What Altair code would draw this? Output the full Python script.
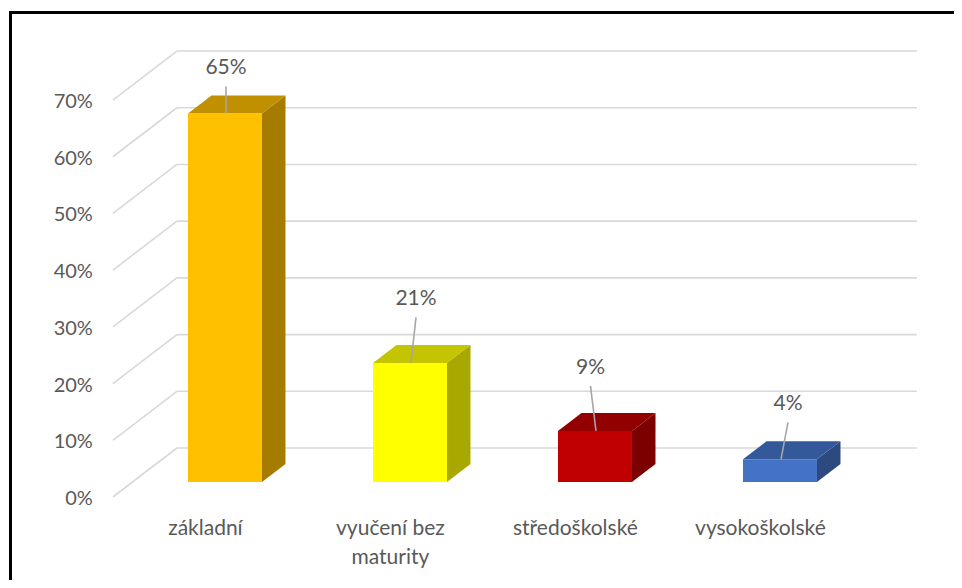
import altair as alt
import pandas as pd

# ---------------- data ----------------
categories = ["základní", "vyučení bez\nmaturity", "středoškolské", "vysokoškolské"]
values = [0.65, 0.21, 0.09, 0.04]
value_labels = ["65%", "21%", "9%", "4%"]
tick_values = [0.0, 0.1, 0.2, 0.3, 0.4, 0.5, 0.6, 0.7]
tick_labels = ["0%", "10%", "20%", "30%", "40%", "50%", "60%", "70%"]

front_colors = ["#FFC000", "#FFFF00", "#C00000", "#4472C4"]
top_colors = ["#C09000", "#C4C400", "#920000", "#33599A"]
side_colors = ["#A67C00", "#A8A800", "#7C0000", "#2C4A80"]

# manual data-label placement (px, relative to the bar's front-top centre)
label_dx = [1, 6, -4.5, 8]
label_dy = [-45, -63.5, -63, -55]

# ---------------- geometry ----------------
W, H = 946, 572
PX_U = 185.0      # px per category step
PX_V = 567.1      # px per unit of value
X0 = 197.4        # px of category 0 on the front plane
Y0 = 489.0        # px of value 0 on the front plane
XD = [-X0 / PX_U, (W - X0) / PX_U]
YD = [-(H - Y0) / PX_V, Y0 / PX_V]
DU = 64.0 / PX_U  # floor depth vector (front plane -> back wall)
DV = 49.0 / PX_V
T_FRONT, T_BACK = 0.306, 0.673
HALF = 0.2
FLOOR_L, FLOOR_R = -0.5, 3.5

xs = alt.Scale(domain=XD, nice=False, zero=False)
ys = alt.Scale(domain=YD, nice=False, zero=False)


def X(f):
    return alt.X(f, type="quantitative", scale=xs, axis=None)


def Y(f):
    return alt.Y(f, type="quantitative", scale=ys, axis=None)


FONT = "Lato"
TXT = "#595959"
GRID = "#D9D9D9"

# gridlines
grid = pd.DataFrame({"v": tick_values})
grid["bx1"] = FLOOR_L + DU
grid["bx2"] = FLOOR_R + DU
grid["by"] = grid["v"] + DV
grid["fx"] = FLOOR_L
grid["fy"] = grid["v"]

back_lines = alt.Chart(grid).mark_rule(color=GRID, strokeWidth=1.6).encode(
    x=X("bx1"), x2="bx2", y=Y("by"))
diag_lines = alt.Chart(grid).mark_rule(color=GRID, strokeWidth=1.6).encode(
    x=X("fx"), x2="bx1", y=Y("fy"), y2="by")

# bars
rows, side_rows, top_rows = [], [], []
for i, (c, v) in enumerate(zip(categories, values)):
    fu, fv = T_FRONT * DU, T_FRONT * DV
    bu, bv = T_BACK * DU, T_BACK * DV
    L, R = i - HALF + fu, i + HALF + fu
    rows.append(dict(cat=c, L=L, R=R, top=v + fv, base=fv, col=front_colors[i],
                     lu=i + fu + label_dx[i] / PX_U, lv=v + fv - label_dy[i] / PX_V,
                     su=i + fu + label_dx[i] / PX_U,
                     sv=v + fv - (label_dy[i] + 18) / PX_V,
                     eu=i + fu + 1 / PX_U, ev=v + fv,
                     txt=value_labels[i]))
    side_rows.append(dict(cat=c, u=R, y=v + fv, y2=fv, col=side_colors[i]))
    side_rows.append(dict(cat=c, u=i + HALF + bu, y=v + bv, y2=bv, col=side_colors[i]))
    top_rows.append(dict(cat=c, yy=v + fv, x1=L, x2=R, col=top_colors[i]))
    top_rows.append(dict(cat=c, yy=v + bv, x1=i - HALF + bu, x2=i + HALF + bu, col=top_colors[i]))

bars = pd.DataFrame(rows)
sides = pd.DataFrame(side_rows)
tops = pd.DataFrame(top_rows)

side_face = alt.Chart(sides).mark_area(interpolate="linear").encode(
    x=X("u"), y=Y("y"), y2="y2", detail="cat:N",
    color=alt.Color("col:N", scale=None))
top_face = alt.Chart(tops).mark_area(orient="horizontal", interpolate="linear").encode(
    y=Y("yy"), x=X("x1"), x2="x2", detail="cat:N",
    color=alt.Color("col:N", scale=None))
front_face = alt.Chart(bars).mark_rect().encode(
    x=X("L"), x2="R", y=Y("top"), y2="base",
    color=alt.Color("col:N", scale=None))

leaders = alt.Chart(bars).mark_rule(color="#A6A6A6", strokeWidth=1.6).encode(
    x=X("su"), x2="eu", y=Y("sv"), y2="ev")
value_text = alt.Chart(bars).mark_text(
    font=FONT, fontSize=21, color=TXT, baseline="middle", align="center").encode(
    x=X("lu"), y=Y("lv"), text="txt:N")

ticks = pd.DataFrame({"v": tick_values, "t": tick_labels})
ticks["u"] = FLOOR_L
tick_text = alt.Chart(ticks).mark_text(
    font=FONT, fontSize=20, color=TXT, baseline="middle", align="right", dx=-20, dy=2).encode(
    x=X("u"), y=Y("v"), text="t:N")

cats = pd.DataFrame({"cat": categories, "u": list(range(len(categories))), "v": [0.0] * 4})
cat_text = alt.Chart(cats).mark_text(
    font=FONT, fontSize=21, color=TXT, baseline="alphabetic", align="center",
    dy=38, lineBreak="\n", lineHeight=29).encode(
    x=X("u"), y=Y("v"), text="cat:N")

frame = alt.Chart(pd.DataFrame({"a": [0]})).mark_rect(
    filled=False, stroke="black", strokeWidth=3).encode(
    x=alt.value(2.5), x2=alt.value(W + 40), y=alt.value(4.5), y2=alt.value(H + 40))

chart = alt.layer(
    back_lines, diag_lines, side_face, top_face, front_face,
    leaders, value_text, tick_text, cat_text, frame
).properties(
    width=W, height=H, padding=0,
    autosize=alt.AutoSizeParams(type="none"),
    background="white",
).configure_view(stroke=None)

chart.save("out.html", embed_options={"renderer": "svg", "actions": False})
